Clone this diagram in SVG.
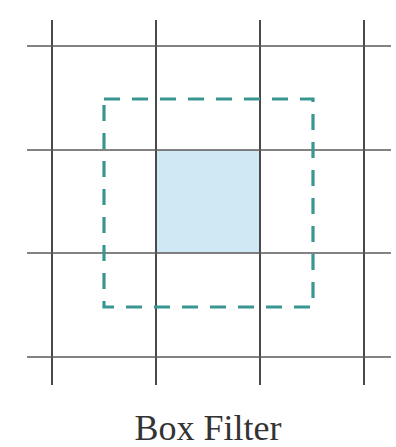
<svg xmlns="http://www.w3.org/2000/svg" width="396" height="447" viewBox="0 0 396 447">
<style>
.v{stroke:#4a4a4a;stroke-width:2;fill:none}
.h{stroke:#5a5a5a;stroke-width:1.5;fill:none}
.cell{fill:#cfe8f4;stroke:none}
.box{fill:none;stroke:#3a9690;stroke-width:3.2;stroke-dasharray:16 12}
.lbl{font-family:"Liberation Serif",serif;font-size:36px;fill:#333;text-anchor:middle}
</style>
<rect width="396" height="447" fill="#fff"/>
<g id="cell"><rect class="cell" x="157" y="150" width="103" height="103"/></g>
<g id="grid">
<line class="v" x1="52" y1="20" x2="52" y2="385"/>
<line class="v" x1="156" y1="20" x2="156" y2="385"/>
<line class="v" x1="260" y1="20" x2="260" y2="385"/>
<line class="v" x1="364" y1="20" x2="364" y2="385"/>
<line class="h" x1="27" y1="46" x2="391" y2="46"/>
<line class="h" x1="27" y1="150" x2="391" y2="150"/>
<line class="h" x1="27" y1="253" x2="391" y2="253"/>
<line class="h" x1="27" y1="357" x2="391" y2="357"/>
</g>
<g id="filter"><rect class="box" x="104" y="99" width="209" height="208"/></g>
<g id="label"><text class="lbl" x="208" y="440">Box Filter</text></g>
</svg>
